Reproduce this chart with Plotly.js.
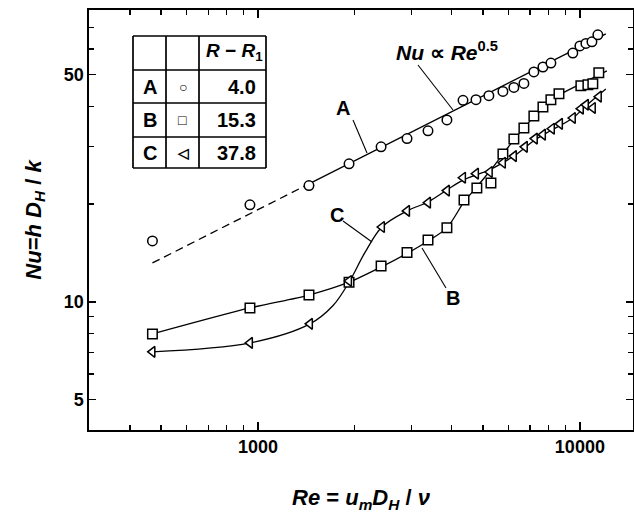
<!DOCTYPE html>
<html><head><meta charset="utf-8">
<script src="https://cdn.plot.ly/plotly-3.0.1.min.js"></script>
<style>html,body{margin:0;padding:0;background:#fff}#chart{width:634px;height:513px}</style>
</head><body><div id="chart"></div>
<script>
// Series A (circles), R-R1 = 4.0
const reA = [470, 944, 1440, 1918, 2412, 2904, 3374, 3863, 4334, 4755, 5215, 5766, 6237, 6700, 7195, 7677, 8128, 9508, 10000, 10440, 10900, 11370];
const nuA = [15.4, 19.9, 22.8, 26.6, 30.0, 31.8, 33.6, 36.3, 41.7, 41.9, 43.1, 44.4, 45.7, 47.0, 51.0, 52.8, 54.3, 58.3, 61.3, 62.4, 63.1, 66.3];
// Series B (squares), R-R1 = 15.3
const reB = [470, 944, 1440, 1918, 2412, 2904, 3374, 3863, 4365, 4786, 5293, 5766, 6237, 6700, 7195, 7677, 8128, 8610, 10070, 10590, 10970, 11450];
const nuB = [7.97, 9.58, 10.5, 11.5, 12.9, 14.2, 15.5, 16.9, 20.6, 22.4, 23.2, 28.5, 31.7, 34.3, 37.3, 39.8, 41.9, 43.7, 46.2, 46.6, 46.9, 50.7];
// Series C (left triangles), R-R1 = 37.8
const reC = [470, 944, 1450, 1918, 2427, 2904, 3374, 3863, 4334, 4755, 5248, 5766, 6237, 6745, 7244, 7677, 8185, 8670, 9508, 10070, 10440, 10970, 11450];
const nuC = [7.02, 7.48, 8.56, 11.6, 17.0, 19.05, 20.2, 22.0, 24.1, 24.8, 25.1, 26.8, 28.1, 30.0, 31.8, 32.7, 34.1, 35.3, 36.8, 39.3, 40.4, 39.5, 42.8];

// Hand-drawn fit curves
const fitAdashRe = [470, 1440];
const fitAdashNu = [13.18, 23.07];
const fitAsolidRe = [1440, 12040];
const fitAsolidNu = [23.07, 66.8];
const fitBRe = [470, 944, 1440, 1918, 2412, 2904, 3374, 3863, 4365, 4786, 5293, 5766, 6237, 6700, 7195, 7677, 8128, 8610, 10070, 12130];
const fitBNu = [7.97, 9.58, 10.5, 11.5, 12.8, 14.1, 15.4, 16.9, 20.3, 22.6, 25.5, 28.5, 31.5, 34.3, 37.1, 39.5, 41.5, 43.3, 46.9, 51.4];
const fitCRe = [470, 944, 1450, 1711, 1918, 2150, 2427, 2904, 3374, 3863, 4334, 5248, 5766, 6237, 6745, 7244, 8185, 9508, 10440, 12040];
const fitCNu = [7.02, 7.48, 8.56, 9.75, 11.5, 14.2, 17.0, 19.05, 20.3, 22.1, 23.7, 25.5, 26.8, 28.1, 29.8, 31.5, 33.8, 36.8, 40.1, 45.2];

// Axis ticks
const xMajor = [1000, 10000];
const xMajorText = ['1000', '10000'];
const xMinor = [400, 500, 600, 700, 800, 900, 2000, 3000, 4000, 5000, 6000, 7000, 8000, 9000];
const yMajor = [5, 10, 50];
const yMajorText = ['5', '10', '50'];
const yMinor = [6, 7, 8, 9, 20, 30, 40, 60, 70];

// Inset table
const tableLetters = ['A', 'B', 'C'];
const tableSymbols = ['○', '□', '◁'];
const tableValues = ['4.0', '15.3', '37.8'];

const lineStyle = {color: '#000', width: 1.3};
const mk = (sym) => ({symbol: sym, size: 9.5, color: '#fff', line: {color: '#000', width: 1.5}});

const traces = [
  {x: fitAdashRe, y: fitAdashNu, mode: 'lines', line: Object.assign({dash: '8px,5px'}, lineStyle), hoverinfo: 'skip'},
  {x: fitAsolidRe, y: fitAsolidNu, mode: 'lines', line: lineStyle, hoverinfo: 'skip'},
  {x: fitBRe, y: fitBNu, mode: 'lines', line: Object.assign({shape: 'spline', smoothing: 0.8}, lineStyle), hoverinfo: 'skip'},
  {x: fitCRe, y: fitCNu, mode: 'lines', line: Object.assign({shape: 'spline', smoothing: 1}, lineStyle), hoverinfo: 'skip'},
  {x: reA, y: nuA, mode: 'markers', marker: mk('circle'), name: 'A'},
  {x: reB, y: nuB, mode: 'markers', marker: mk('square'), name: 'B'},
  {x: reC, y: nuC, mode: 'markers', marker: mk('triangle-left'), name: 'C'}
];

// paper coordinate helpers from pixel positions in the 634x513 frame
const L = 89, R = 633, T = 10, B = 430;
const px = (v) => (v - L) / (R - L);
const py = (v) => (B - v) / (B - T);

const shapes = [];
const tl = 133, tr = 266, tt = 36, tb = 168;
const hline = (y) => ({type: 'line', xref: 'paper', yref: 'paper', x0: px(tl), x1: px(tr), y0: py(y), y1: py(y), line: {color: '#000', width: 1.7}});
const vline = (x) => ({type: 'line', xref: 'paper', yref: 'paper', x0: px(x), x1: px(x), y0: py(tt), y1: py(tb), line: {color: '#000', width: 1.7}});
[tt, 70, 103, 137, tb].forEach(y => shapes.push(hline(y)));
[tl, 166, 199, tr].forEach(x => shapes.push(vline(x)));
const seg = (x0, y0, x1, y1) => ({type: 'line', xref: 'paper', yref: 'paper', x0: px(x0), y0: py(y0), x1: px(x1), y1: py(y1), line: {color: '#000', width: 1.1}});
shapes.push(seg(418, 65, 453, 110));
shapes.push(seg(353, 120, 367, 153));
shapes.push(seg(343, 221, 372, 242));
shapes.push(seg(446, 288, 422, 248));

const F = 'Liberation Sans, Arial, sans-serif';
const ann = (x, y, text, size, xanchor) => ({xref: 'paper', yref: 'paper', x: px(x), y: py(y), text: text, showarrow: false, xanchor: xanchor || 'center', yanchor: 'middle', font: {family: F, size: size, color: '#000', weight: 'bold'}});
const annotations = [];
annotations.push(ann(265, 52, '<i>R</i> − <i>R</i><sub>1</sub>', 19, 'right'));
const rowsY = [86.5, 120, 152.5];
tableLetters.forEach((t, i) => {
  annotations.push(ann(149.5, rowsY[i], t, 20));
  annotations.push(ann(182.5, rowsY[i], tableSymbols[i], 14));
  annotations.push(ann(258, rowsY[i], tableValues[i], 20, 'right'));
});
annotations.push(ann(343, 108, 'A', 20));
annotations.push(ann(453, 298, 'B', 20));
annotations.push(ann(337, 215, 'C', 20));
annotations.push(ann(447, 51, '<i>Nu</i> ∝ <i>Re</i><sup>0.5</sup>', 21));

const layout = {
  width: 634, height: 513,
  margin: {l: L, r: 634 - R, t: T, b: 513 - B, pad: 0},
  paper_bgcolor: '#fff', plot_bgcolor: '#fff',
  showlegend: false,
  font: {family: F, color: '#000'},
  xaxis: {
    type: 'log', range: [2.475, 4.165], showgrid: false, zeroline: false,
    showline: true, linecolor: '#000', linewidth: 1.7, mirror: 'ticks',
    ticks: 'inside', ticklen: 8, tickwidth: 1.4, tickcolor: '#000',
    tickmode: 'array', tickvals: xMajor, ticktext: xMajorText,
    tickfont: {family: F, size: 18, color: '#000', weight: 'bold'},
    minor: {tickmode: 'array', tickvals: xMinor, ticks: 'inside', ticklen: 5, tickwidth: 1.2, tickcolor: '#000', showgrid: false},
    title: {text: '<i>Re</i> = <i>u</i><sub><i>m</i></sub><i>D</i><sub><i>H</i></sub> / <i>ν</i>', font: {family: F, size: 22, color: '#000', weight: 'bold'}, standoff: 34}
  },
  yaxis: {
    type: 'log', range: [0.606, 1.898], showgrid: false, zeroline: false,
    showline: true, linecolor: '#000', linewidth: 1.7, mirror: 'ticks',
    ticks: 'inside', ticklen: 7, tickwidth: 1.4, tickcolor: '#000',
    tickmode: 'array', tickvals: yMajor, ticktext: yMajorText,
    tickfont: {family: F, size: 18, color: '#000', weight: 'bold'},
    minor: {tickmode: 'array', tickvals: yMinor, ticks: 'inside', ticklen: 5, tickwidth: 1.2, tickcolor: '#000', showgrid: false},
    title: {text: '<i>Nu</i>=<i>h D</i><sub><i>H</i></sub> / <i>k</i>', font: {family: F, size: 22, color: '#000', weight: 'bold'}, standoff: 16}
  },
  shapes: shapes,
  annotations: annotations
};

Plotly.newPlot('chart', traces, layout, {displayModeBar: false, staticPlot: true});
</script>
</body></html>
